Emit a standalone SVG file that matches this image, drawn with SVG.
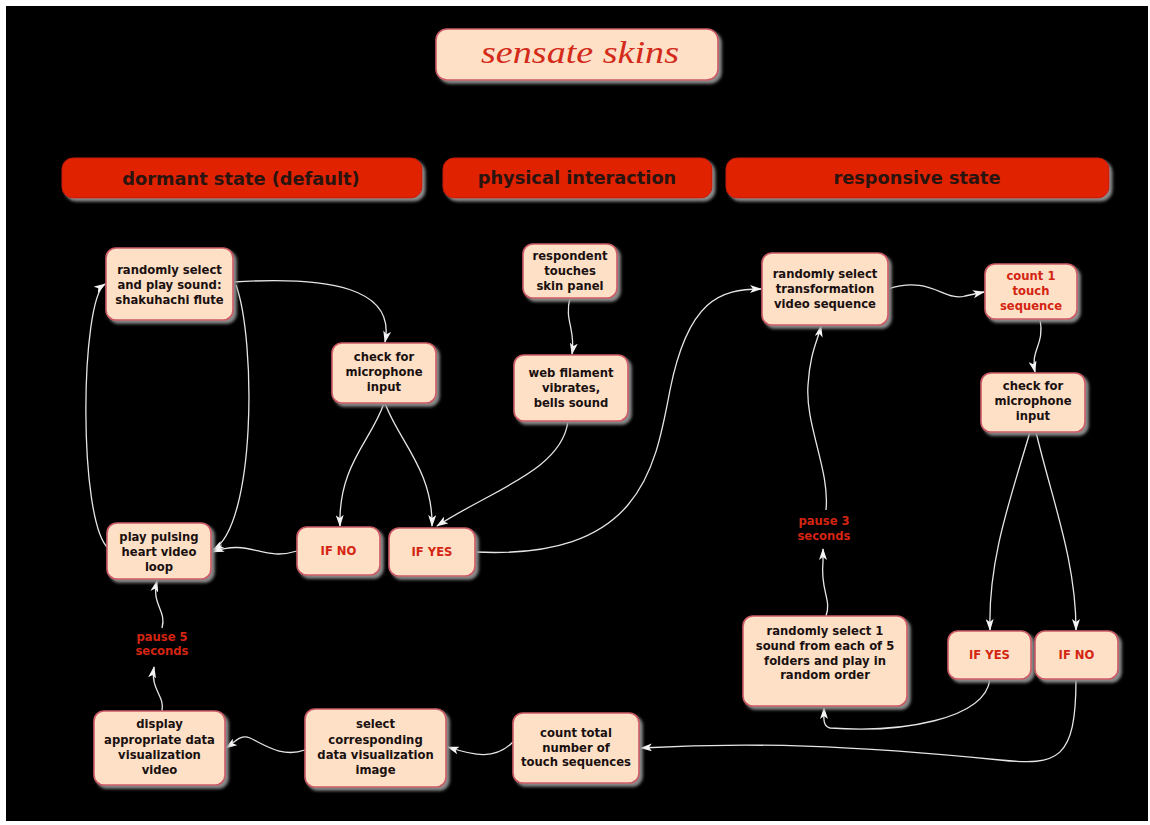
<svg xmlns="http://www.w3.org/2000/svg" width="1150" height="825" viewBox="0 0 1150 825">
<defs>
<filter id="sh" x="-20%" y="-20%" width="140%" height="140%">
<feDropShadow dx="3" dy="3" stdDeviation="1.5" flood-color="#8a8a8a" flood-opacity="1"/>
</filter>
<marker id="ar" viewBox="0 0 12 8" refX="11" refY="4" markerWidth="12" markerHeight="8" markerUnits="userSpaceOnUse" orient="auto">
<path d="M0,0 L12,4 L0,8 L3,4 Z" fill="#f4f4f4"/>
</marker>
<style>
.n{fill:#fde0c6;stroke:#cc5a66;stroke-width:1.6;filter:url(#sh)}
.h{fill:#e02000;stroke:#c01a00;stroke-width:1;filter:url(#sh)}
.t{font-family:"DejaVu Sans",Verdana,sans-serif;font-weight:bold;font-size:11.6px;fill:#1a1010;text-anchor:middle}
.r{fill:#d42412}
.ht{font-family:"DejaVu Sans",Verdana,sans-serif;font-weight:bold;font-size:17.8px;fill:#2a1410;text-anchor:middle}
.c{fill:none;stroke:#e6e6e6;stroke-width:1.3;marker-end:url(#ar)}
</style>
</defs>
<rect x="0" y="0" width="1150" height="825" fill="#ffffff"/>
<rect x="6" y="6" width="1142" height="815" fill="#000000"/>

<g id="title">
<rect x="436" y="29" width="282" height="51" rx="11" class="n"/>
<text x="580" y="63" font-family="'Liberation Serif',serif" font-style="italic" font-size="32" fill="#d42a1a" text-anchor="middle" textLength="198" lengthAdjust="spacingAndGlyphs">sensate skins</text>
</g>

<g id="header-dormant">
<rect x="62" y="158" width="360" height="40" rx="11" class="h"/>
<text x="241" y="185" class="ht">dormant state (default)</text>
</g>
<g id="header-physical">
<rect x="443" y="158" width="269" height="40" rx="11" class="h"/>
<text x="577" y="184" class="ht">physical interaction</text>
</g>
<g id="header-responsive">
<rect x="726" y="158" width="383" height="40" rx="11" class="h"/>
<text x="917" y="184" class="ht">responsive state</text>
</g>

<g id="connectors">
<path class="c" d="M233,282 C330,276 396,288 385,342"/>
<path class="c" d="M236,285 C256,340 256,525 213,550"/>
<path class="c" d="M108,548 C78,520 80,300 105,284"/>
<path class="c" d="M384,403 C372,440 338,465 340,526"/>
<path class="c" d="M385,403 C398,440 433,470 432,526"/>
<path class="c" d="M570,298 C564,320 576,330 572,354"/>
<path class="c" d="M568,421 C562,470 492,490 437,526"/>
<path class="c" d="M297,551 C262,562 250,538 213,552"/>
<path class="c" d="M475,552 C640,560 655,470 670,390 C688,300 720,289 761,289"/>
<path class="c" d="M888,289 C930,275 945,302 965,296 L984,292"/>
<path class="c" d="M1040,319 C1045,345 1030,350 1035,372"/>
<path class="c" d="M1030,432 C1010,500 988,560 990,630"/>
<path class="c" d="M1036,432 C1052,500 1076,560 1076,630"/>
<path class="c" d="M990,679 C985,720 900,733 830,728 C822,726 824,716 824,708"/>
<path class="c" d="M1076,679 C1076,760 1058,766 1000,760 C850,745 750,742 641,748"/>
<path class="c" d="M826,616 C832,600 820,590 823,562 L823,549"/>
<path class="c" d="M826,510 C830,470 805,425 808,385 C810,352 818,340 821,326"/>
<path class="c" d="M513,742 C495,760 475,756 448,747"/>
<path class="c" d="M305,750 C282,758 265,745 250,738 C240,734 235,742 226,748"/>
<path class="c" d="M162,711 C165,695 150,690 154,667"/>
<path class="c" d="M162,628 C167,610 151,605 157,581"/>
</g>

<g id="n-shakuhachi">
<rect x="106" y="248" width="127" height="72" rx="10" class="n"/>
<text class="t" x="169.5"><tspan x="169.5" y="274">randomly select</tspan><tspan x="169.5" y="289">and play sound:</tspan><tspan x="169.5" y="304">shakuhachi flute</tspan></text>
</g>
<g id="n-check1">
<rect x="332" y="343" width="104" height="60" rx="10" class="n"/>
<text class="t"><tspan x="384" y="361">check for</tspan><tspan x="384" y="376">microphone</tspan><tspan x="384" y="391">input</tspan></text>
</g>
<g id="n-respondent">
<rect x="523" y="244" width="94" height="54" rx="10" class="n"/>
<text class="t"><tspan x="570" y="260">respondent</tspan><tspan x="570" y="275">touches</tspan><tspan x="570" y="290">skin panel</tspan></text>
</g>
<g id="n-web">
<rect x="514" y="355" width="114" height="66" rx="10" class="n"/>
<text class="t"><tspan x="571" y="377">web filament</tspan><tspan x="571" y="392">vibrates,</tspan><tspan x="571" y="407">bells sound</tspan></text>
</g>
<g id="n-transform">
<rect x="762" y="253" width="126" height="72" rx="10" class="n"/>
<text class="t"><tspan x="825" y="278">randomly select</tspan><tspan x="825" y="293">transformation</tspan><tspan x="825" y="308">video sequence</tspan></text>
</g>
<g id="n-count1">
<rect x="985" y="264" width="92" height="55" rx="10" class="n"/>
<text class="t r"><tspan x="1031" y="280">count 1</tspan><tspan x="1031" y="295">touch</tspan><tspan x="1031" y="310">sequence</tspan></text>
</g>
<g id="n-check2">
<rect x="981" y="373" width="104" height="59" rx="10" class="n"/>
<text class="t"><tspan x="1033" y="390">check for</tspan><tspan x="1033" y="405">microphone</tspan><tspan x="1033" y="420">input</tspan></text>
</g>
<g id="n-heart">
<rect x="107" y="523" width="104" height="56" rx="10" class="n"/>
<text class="t"><tspan x="159" y="541">play pulsing</tspan><tspan x="159" y="556">heart video</tspan><tspan x="159" y="571">loop</tspan></text>
</g>
<g id="n-ifno1">
<rect x="297" y="527" width="83" height="48" rx="10" class="n"/>
<text class="t r" x="338.5" y="555">IF NO</text>
</g>
<g id="n-ifyes1">
<rect x="389" y="528" width="86" height="48" rx="10" class="n"/>
<text class="t r" x="432" y="556">IF YES</text>
</g>
<g id="n-sound5">
<rect x="743" y="616" width="164" height="90" rx="10" class="n"/>
<text class="t"><tspan x="825" y="635">randomly select 1</tspan><tspan x="825" y="650">sound from each of 5</tspan><tspan x="825" y="665">folders and play in</tspan><tspan x="825" y="679">random order</tspan></text>
</g>
<g id="n-ifyes2">
<rect x="948" y="631" width="83" height="48" rx="10" class="n"/>
<text class="t r" x="989.5" y="659">IF YES</text>
</g>
<g id="n-ifno2">
<rect x="1035" y="631" width="83" height="48" rx="10" class="n"/>
<text class="t r" x="1076.5" y="659">IF NO</text>
</g>
<g id="n-display">
<rect x="94" y="711" width="131" height="74" rx="10" class="n"/>
<text class="t"><tspan x="159.5" y="728">display</tspan><tspan x="159.5" y="744">appropriate data</tspan><tspan x="159.5" y="759">visualization</tspan><tspan x="159.5" y="774">video</tspan></text>
</g>
<g id="n-select">
<rect x="305" y="709" width="141" height="78" rx="10" class="n"/>
<text class="t"><tspan x="375.5" y="728">select</tspan><tspan x="375.5" y="744">corresponding</tspan><tspan x="375.5" y="759">data visualization</tspan><tspan x="375.5" y="774">image</tspan></text>
</g>
<g id="n-counttotal">
<rect x="513" y="713" width="126" height="70" rx="10" class="n"/>
<text class="t"><tspan x="576" y="737">count total</tspan><tspan x="576" y="752">number of</tspan><tspan x="576" y="766">touch sequences</tspan></text>
</g>
<g id="l-pause5">
<text class="t r"><tspan x="162" y="641">pause 5</tspan><tspan x="162" y="655">seconds</tspan></text>
</g>
<g id="l-pause3">
<text class="t r"><tspan x="824" y="525">pause 3</tspan><tspan x="824" y="540">seconds</tspan></text>
</g>
</svg>
